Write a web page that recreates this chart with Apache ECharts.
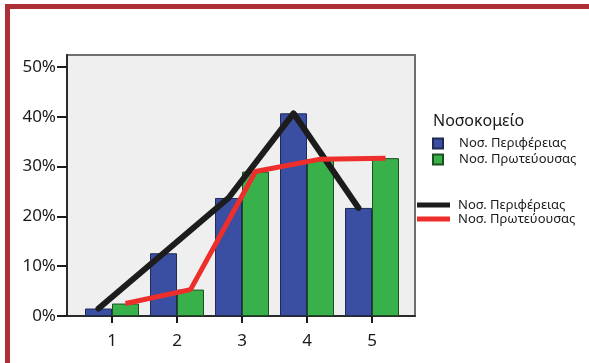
<!DOCTYPE html>
<html>
<head>
<meta charset="utf-8">
<script src="https://cdn.jsdelivr.net/npm/echarts@6/dist/echarts.min.js"></script>
<style>
html,body{margin:0;padding:0;background:#fff;}
#c{width:589px;height:363px;}
</style>
</head>
<body>
<div id="c"></div>
<script>
// ---- data ----
const categories = [1, 2, 3, 4, 5];
const periferiaValues = [1.5, 12.6, 23.7, 40.7, 21.7];
const proteuousaValues = [2.5, 5.3, 29.0, 31.5, 31.7];
const yTicks = [0, 10, 20, 30, 40, 50];
const legendTitle = 'Νοσοκομείο';
const seriesNames = ['Νοσ. Περιφέρειας', 'Νοσ. Πρωτεύουσας'];

// ---- layout ----
const gridLeft = 67, gridTop = 55, gridW = 348, gridH = 261;
const pxPerUnit = 65;
const xMin = 1 - 45 / pxPerUnit;
const xMax = xMin + gridW / pxPerUnit;
const yMax = gridH / 4.98;
const barW = 27;
const off = (barW / 2) / pxPerUnit;

const lineNames = ['line_a', 'line_b'];
const lineLabel = {line_a: seriesNames[0], line_b: seriesNames[1]};

const chart = echarts.init(document.getElementById('c'), null, {renderer: 'canvas'});
const font = 'Noto Sans';
chart.setOption({
  backgroundColor: '#ffffff',
  animation: false,
  title: {
    text: legendTitle, left: 433, top: 113, padding: 0,
    textStyle: {fontFamily: font, fontSize: 16, fontWeight: 'normal', color: '#1a1a1a'}
  },
  legend: [
    {
      data: seriesNames, orient: 'vertical', left: 432, top: 137, padding: 0,
      icon: 'rect', itemWidth: 10, itemHeight: 10, itemGap: 3,
      textStyle: {fontFamily: font, fontSize: 13, lineHeight: 12, color: '#1a1a1a', padding: [0, 0, 0, 11]},
      selectedMode: false
    },
    {
      data: lineNames, orient: 'vertical', left: 417, top: 198, padding: 0,
      icon: 'rect', itemWidth: 33, itemHeight: 5, itemGap: 0,
      formatter: n => lineLabel[n],
      textStyle: {fontFamily: font, fontSize: 13, lineHeight: 14, color: '#1a1a1a', padding: [0, 0, 0, 3]},
      selectedMode: false
    }
  ],
  graphic: [
    {type: 'rect', shape: {x: 5, y: 4, width: 584, height: 5}, style: {fill: '#ad2f38'}, z: 100},
    {type: 'rect', shape: {x: 5, y: 4, width: 5, height: 359}, style: {fill: '#ad2f38'}, z: 100}
  ],
  grid: {
    left: gridLeft, top: gridTop, width: gridW, height: gridH,
    show: true, backgroundColor: '#efefef', borderColor: '#6e6e6e', borderWidth: 2
  },
  xAxis: {
    type: 'value', min: xMin, max: xMax,
    splitLine: {show: false},
    axisLine: {show: true, onZero: false, lineStyle: {color: '#2a2a2a', width: 2}},
    axisTick: {show: true, length: 7, lineStyle: {color: '#1a1a1a', width: 2}, customValues: categories},
    axisLabel: {customValues: categories, margin: 17, fontFamily: font, fontSize: 17, color: '#1a1a1a', formatter: v => String(v)}
  },
  yAxis: {
    type: 'value', min: 0, max: yMax,
    splitLine: {show: false},
    axisLine: {show: true, lineStyle: {color: '#2a2a2a', width: 2}},
    axisTick: {show: true, length: 10, lineStyle: {color: '#1a1a1a', width: 2}, customValues: yTicks},
    axisLabel: {customValues: yTicks, margin: 11, fontFamily: font, fontSize: 17, color: '#1a1a1a', formatter: v => v + '%'}
  },
  series: [
    {
      name: seriesNames[0], type: 'bar', barWidth: barW, barGap: '0%',
      data: categories.map((c, i) => [c, periferiaValues[i]]),
      itemStyle: {color: '#3a4ea2', borderColor: '#1f2a55', borderWidth: 1}
    },
    {
      name: seriesNames[1], type: 'bar', barWidth: barW, barGap: '0%',
      data: categories.map((c, i) => [c, proteuousaValues[i]]),
      itemStyle: {color: '#39b14a', borderColor: '#1c4f22', borderWidth: 1}
    },
    {
      name: lineNames[0], type: 'line', showSymbol: false, symbol: 'none',
      data: categories.map((c, i) => [c - off, periferiaValues[i]]),
      lineStyle: {color: '#1c1c1c', width: 6, cap: 'round', join: 'round'},
      itemStyle: {color: '#1c1c1c'}, z: 5
    },
    {
      name: lineNames[1], type: 'line', showSymbol: false, symbol: 'none',
      data: categories.map((c, i) => [c + off, proteuousaValues[i]]),
      lineStyle: {color: '#ee2e2b', width: 5, join: 'round'},
      itemStyle: {color: '#ee2e2b'}, z: 6
    }
  ]
});
</script>
</body>
</html>
